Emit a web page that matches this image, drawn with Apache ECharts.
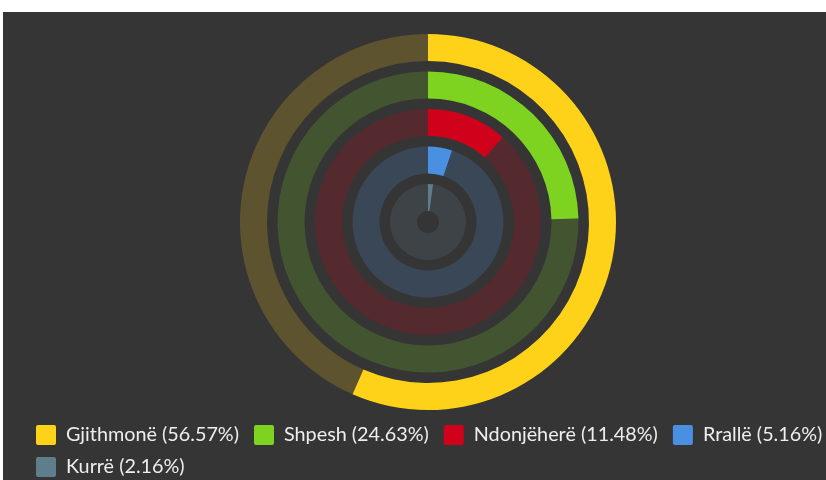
<!DOCTYPE html>
<html>
<head>
<meta charset="utf-8">
<script src="https://cdn.jsdelivr.net/npm/echarts@6/dist/echarts.min.js"></script>
<style>
  html, body { margin: 0; padding: 0; background: #fff; overflow: hidden; }
  #chart { position: absolute; left: 3px; top: 12px; width: 823px; height: 468px; }
</style>
</head>
<body>
<div id="chart"></div>
<script>
// outer ring first
const categories = ['Gjithmonë', 'Shpesh', 'Ndonjëherë', 'Rrallë', 'Kurrë'];
const percents = [56.57, 24.63, 11.48, 5.16, 2.16];
const colors = ['#FFD21A', '#7ED321', '#D0021B', '#4A90E2', '#607D8B'];

const hexToRgba = (hex, a) => {
  const n = parseInt(hex.slice(1), 16);
  return `rgba(${(n >> 16) & 255},${(n >> 8) & 255},${n & 255},${a})`;
};

// radius axis goes inner -> outer
const radiusCats = [...categories].reverse();

const chart = echarts.init(document.getElementById('chart'));

const ringSeries = categories.map((name, i) => ({
  name,
  type: 'bar',
  coordinateSystem: 'polar',
  stack: 'rings',
  barWidth: 27,
  data: radiusCats.map((c) => (c === name ? percents[i] : '-')),
  itemStyle: { color: colors[i] }
}));

// faint remainder of each ring, stacked on top up to 100
const trackSeries = {
  name: 'track',
  type: 'bar',
  coordinateSystem: 'polar',
  stack: 'rings',
  silent: true,
  data: radiusCats.map((name) => {
    const i = categories.indexOf(name);
    return {
      value: 100 - percents[i],
      itemStyle: { color: hexToRgba(colors[i], 0.2) }
    };
  })
};

// legend wraps after the 4th item
const legendRow = (names, top) => ({
  left: 33,
  top,
  padding: 0,
  itemGap: 15,
  itemWidth: 20,
  itemHeight: 20,
  icon: 'path://M2,0H18A2,2,0,0,1,20,2V18A2,2,0,0,1,18,20H2A2,2,0,0,1,0,18V2A2,2,0,0,1,2,0Z',
  data: names,
  formatter: (name) => `${name} (${percents[categories.indexOf(name)].toFixed(2)}%)`,
  textStyle: {
    color: '#eeeeee',
    fontFamily: 'Lato',
    fontSize: 19.8,
    padding: [0, 0, 0, 5]
  }
});

chart.setOption({
  backgroundColor: '#353535',
  animation: false,
  polar: {
    center: [425, 210],
    radius: [5.75, 193.25]
  },
  angleAxis: {
    type: 'value',
    min: 0,
    max: 100,
    startAngle: 90,
    clockwise: true,
    show: false
  },
  radiusAxis: {
    type: 'category',
    data: radiusCats,
    show: false
  },
  legend: [
    legendRow(categories.slice(0, 4), 413),
    legendRow(categories.slice(4), 445)
  ],
  series: [...ringSeries, trackSeries]
});
</script>
</body>
</html>
